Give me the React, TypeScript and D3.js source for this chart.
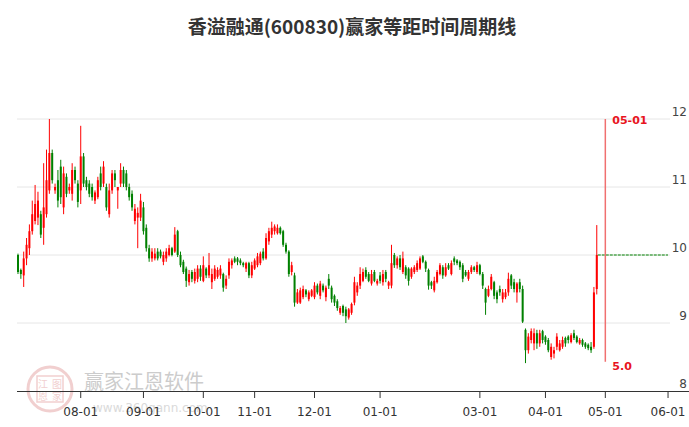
import React from "react";
import * as d3 from "d3";

// [open, high, low, close] per trading day, by month
const jul = [
  [10.0, 10.02, 9.72, 9.75], [9.78, 9.8, 9.65, 9.72], [9.7, 10.05, 9.53, 9.95], [9.95, 10.25, 9.85, 10.15],
  [10.1, 10.45, 10.0, 10.35], [10.35, 10.8, 10.3, 10.6], [10.5, 11.03, 10.45, 10.75], [10.55, 10.93, 10.44, 10.8],
  [10.6, 10.65, 10.25, 10.3], [10.4, 11.35, 10.15, 10.7], [10.6, 11.55, 10.55, 11.1], [10.95, 12.0, 10.9, 11.5],
  [11.5, 11.55, 11.05, 11.1], [10.95, 11.05, 10.9, 11.0], [11.1, 11.25, 10.7, 10.8], [11.3, 11.4, 10.75, 10.85],
  [10.7, 11.3, 10.6, 11.2], [11.15, 11.2, 10.85, 10.9], [10.95, 11.05, 10.9, 11.0], [10.9, 11.35, 10.8, 11.25],
  [11.25, 11.3, 11.05, 11.1], [11.05, 11.1, 10.7, 10.78],
];
const aug = [
  [10.95, 11.9, 10.75, 11.45], [11.45, 11.5, 11.0, 11.05], [11.1, 11.15, 10.95, 11.0], [11.05, 11.1, 10.85, 10.9],
  [11.0, 11.05, 10.8, 10.85], [10.8, 10.95, 10.75, 10.92], [10.85, 11.15, 10.82, 11.1], [11.2, 11.3, 10.95, 11.0],
  [11.05, 11.38, 11.0, 11.3], [11.0, 11.05, 10.65, 10.7], [10.6, 11.05, 10.55, 10.95], [10.95, 11.25, 10.9, 11.2],
  [11.2, 11.25, 11.0, 11.1], [10.95, 11.0, 10.68, 11.0], [11.05, 11.35, 11.0, 11.25], [11.25, 11.3, 11.0, 11.05],
  [11.2, 11.25, 10.95, 11.0], [11.0, 11.05, 10.8, 10.85], [10.9, 10.95, 10.65, 10.7], [10.5, 10.75, 10.45, 10.68],
  [10.55, 10.7, 10.1, 10.62], [10.55, 10.9, 10.5, 10.8],
];
const sep = [
  [10.7, 10.78, 10.3, 10.35], [10.4, 10.45, 10.05, 10.1], [10.1, 10.15, 9.9, 9.95], [9.95, 10.1, 9.9, 10.05],
  [9.95, 10.1, 9.92, 10.02], [10.05, 10.1, 9.92, 9.95], [10.05, 10.08, 9.95, 9.98], [9.9, 10.05, 9.85, 10.0],
  [9.95, 10.1, 9.9, 10.05], [10.0, 10.15, 9.98, 10.1], [10.1, 10.12, 9.98, 10.0], [10.05, 10.41, 10.03, 10.3],
  [10.35, 10.37, 9.97, 10.0], [10.0, 10.05, 9.82, 9.85], [9.9, 9.93, 9.72, 9.75], [9.8, 9.83, 9.53, 9.62],
  [9.6, 9.78, 9.55, 9.72], [9.75, 9.78, 9.6, 9.65], [9.62, 9.8, 9.58, 9.75], [9.65, 9.85, 9.6, 9.8],
  [9.8, 9.85, 9.62, 9.68],
];
const oct = [
  [9.62, 9.98, 9.6, 9.85], [9.8, 9.82, 9.66, 9.7], [9.7, 10.03, 9.66, 9.85], [9.6, 9.8, 9.5, 9.72],
  [9.65, 9.85, 9.62, 9.8], [9.68, 9.82, 9.65, 9.78], [9.7, 9.85, 9.65, 9.8], [9.72, 9.74, 9.46, 9.52],
  [9.55, 9.7, 9.5, 9.65], [9.7, 9.95, 9.65, 9.9], [9.85, 9.95, 9.8, 9.92], [9.95, 9.98, 9.88, 9.9],
  [9.95, 9.97, 9.85, 9.9], [9.92, 9.95, 9.85, 9.88], [9.88, 9.9, 9.82, 9.85], [9.8, 9.9, 9.75, 9.88],
  [9.88, 9.9, 9.66, 9.7], [9.7, 9.9, 9.66, 9.85],
];
const nov = [
  [9.8, 9.95, 9.78, 9.92], [9.85, 10.03, 9.82, 9.98], [9.88, 10.05, 9.85, 10.02], [10.05, 10.1, 9.92, 9.95],
  [9.95, 10.32, 9.93, 10.25], [10.2, 10.4, 10.15, 10.35], [10.3, 10.49, 10.25, 10.4], [10.35, 10.45, 10.3, 10.42],
  [10.32, 10.45, 10.3, 10.4], [10.4, 10.42, 10.3, 10.32], [10.35, 10.37, 10.12, 10.15], [10.15, 10.18, 10.02, 10.05],
  [10.05, 10.07, 9.68, 9.72], [9.75, 9.9, 9.7, 9.85], [9.7, 9.74, 9.24, 9.3], [9.3, 9.5, 9.28, 9.45],
  [9.3, 9.52, 9.28, 9.48], [9.38, 9.55, 9.35, 9.5], [9.48, 9.5, 9.38, 9.42], [9.35, 9.48, 9.32, 9.45],
  [9.4, 9.5, 9.38, 9.48], [9.38, 9.6, 9.35, 9.55],
];
const dec = [
  [9.55, 9.58, 9.42, 9.45], [9.4, 9.62, 9.35, 9.58], [9.55, 9.58, 9.45, 9.48], [9.38, 9.55, 9.32, 9.52],
  [9.65, 9.72, 9.5, 9.55], [9.52, 9.55, 9.3, 9.35], [9.4, 9.42, 9.25, 9.3], [9.32, 9.35, 9.18, 9.22],
  [9.15, 9.25, 9.12, 9.22], [9.25, 9.27, 9.1, 9.15], [9.2, 9.24, 9.0, 9.1], [9.08, 9.22, 9.05, 9.2],
  [9.15, 9.3, 9.12, 9.28], [9.3, 9.68, 9.26, 9.6], [9.45, 9.6, 9.4, 9.55], [9.55, 9.82, 9.5, 9.72],
  [9.62, 9.8, 9.6, 9.75], [9.78, 9.82, 9.65, 9.68], [9.72, 9.75, 9.6, 9.62], [9.58, 9.78, 9.55, 9.72],
  [9.75, 9.78, 9.6, 9.62], [9.58, 9.65, 9.55, 9.62],
];
const janFeb = [
  [9.7, 9.75, 9.58, 9.62], [9.6, 9.78, 9.55, 9.72], [9.75, 9.78, 9.6, 9.65], [9.55, 9.62, 9.5, 9.6],
  [9.55, 10.15, 9.51, 9.88], [10.0, 10.03, 9.81, 9.85], [9.85, 9.98, 9.8, 9.95], [9.95, 10.0, 9.78, 9.82],
  [9.75, 10.05, 9.72, 9.95], [9.82, 9.85, 9.65, 9.7], [9.8, 9.82, 9.55, 9.62], [9.68, 9.82, 9.65, 9.8],
  [9.75, 9.85, 9.72, 9.82], [9.78, 9.92, 9.75, 9.88], [9.8, 9.98, 9.78, 9.95], [9.98, 10.0, 9.88, 9.9],
  [9.9, 9.92, 9.75, 9.8], [9.78, 9.8, 9.49, 9.55], [9.6, 9.62, 9.5, 9.55], [9.48, 9.68, 9.45, 9.62],
  [9.6, 9.78, 9.58, 9.75], [9.72, 9.88, 9.7, 9.85], [9.82, 9.85, 9.65, 9.7], [9.7, 9.88, 9.68, 9.82],
  [9.85, 9.88, 9.78, 9.8], [9.72, 9.92, 9.7, 9.88], [9.95, 9.98, 9.85, 9.9], [9.92, 9.94, 9.85, 9.88],
  [9.9, 9.92, 9.78, 9.82], [9.85, 9.88, 9.6, 9.65], [9.75, 9.78, 9.68, 9.7], [9.65, 9.78, 9.62, 9.75],
  [9.75, 9.85, 9.72, 9.82], [9.82, 9.84, 9.75, 9.78], [9.75, 9.9, 9.72, 9.85],
];
const mar = [
  [9.85, 9.87, 9.7, 9.72], [9.72, 9.75, 9.5, 9.55], [9.5, 9.52, 9.12, 9.3], [9.4, 9.55, 9.38, 9.5],
  [9.5, 9.72, 9.48, 9.68], [9.6, 9.62, 9.35, 9.4], [9.45, 9.48, 9.29, 9.35], [9.5, 9.55, 9.4, 9.45],
  [9.35, 9.5, 9.3, 9.45], [9.38, 9.5, 9.35, 9.45], [9.45, 9.74, 9.4, 9.65], [9.7, 9.72, 9.5, 9.55],
  [9.6, 9.65, 9.45, 9.5], [9.45, 9.6, 9.3, 9.58], [9.6, 9.65, 9.45, 9.5], [9.5, 9.55, 9.0, 9.02],
  [8.9, 8.92, 8.41, 8.6], [8.6, 8.85, 8.55, 8.8], [8.75, 8.92, 8.7, 8.88], [8.7, 8.92, 8.6, 8.85],
  [8.85, 8.9, 8.62, 8.7], [8.7, 8.9, 8.65, 8.85], [8.88, 8.9, 8.7, 8.75],
];
const apr = [
  [8.8, 8.82, 8.68, 8.72], [8.75, 8.78, 8.57, 8.6], [8.5, 8.7, 8.46, 8.65], [8.55, 8.65, 8.48, 8.6],
  [8.65, 8.85, 8.6, 8.8], [8.6, 8.75, 8.58, 8.7], [8.65, 8.8, 8.62, 8.75], [8.78, 8.8, 8.65, 8.7],
  [8.8, 8.82, 8.7, 8.75], [8.72, 8.85, 8.7, 8.82], [8.85, 8.9, 8.75, 8.78], [8.8, 8.82, 8.7, 8.72],
  [8.7, 8.78, 8.68, 8.75], [8.75, 8.77, 8.65, 8.68], [8.7, 8.72, 8.62, 8.65], [8.68, 8.7, 8.6, 8.63],
  [8.65, 8.72, 8.56, 8.6], [8.65, 9.53, 8.62, 9.45], [9.5, 10.44, 9.42, 10.0],
];

const tickLabels = ["08-01", "09-01", "10-01", "11-01", "12-01", "01-01", "03-01", "04-01", "05-01", "06-01"];
const tickIdx = [22, 44, 65, 83, 104, 127, 162, 185, 206, 228];
const yTicks = [8, 9, 10, 11, 12];

const cycleIdx = 206;
const cycleLabel = "05-01";
const cycleBottomLabel = "5.0";
const cycleBottom = 8.43;
const lastClose = 10.0;

const candles = [...jul, ...aug, ...sep, ...oct, ...nov, ...dec, ...janFeb, ...mar, ...apr];

const W = 689;
const H = 427;
const RED = "#ff0000";
const GREEN = "#008000";

export default function App() {
  const slots = d3.range(236);
  const x = d3.scaleBand<number>().domain(slots).range([17, 689]).paddingInner(0.3);
  const cx = (i: number) => (x(i) ?? 0) + x.bandwidth() / 2;
  const y = d3.scaleLinear().domain([8, 12]).range([391, 119]);
  const font = "'Noto Sans CJK SC', 'Noto Sans', sans-serif";

  return (
    <div style={{ position: "fixed", left: 0, top: 0 }}>
      <svg width={W} height={H} style={{ display: "block", background: "#fff" }}>
        <text x={352} y={34} textAnchor="middle" fontFamily={font} fontSize={19} fontWeight="bold" fill="#333">
          香溢融通(600830)赢家等距时间周期线
        </text>

        {/* grid */}
        {yTicks.slice(1).map((t) => (
          <line key={t} x1={17} x2={670} y1={y(t)} y2={y(t)} stroke="#e6e6e6" strokeWidth={1} />
        ))}
        {yTicks.map((t) => (
          <text key={"yl" + t} x={687} y={y(t) - 3} textAnchor="end" fontFamily="'DejaVu Sans', sans-serif" fontSize={12} fill="#444">
            {t}
          </text>
        ))}

        {/* watermark */}
        <g opacity={0.55}>
          <circle cx={50} cy={389} r={22} fill="none" stroke="#e7a9a9" strokeWidth={3} />
          <rect x={37} y={376} width={26} height={26} fill="none" stroke="#e7a9a9" strokeWidth={1.5} />
          <text x={43} y={388} textAnchor="middle" fontFamily={font} fontSize={10} fill="#e7a9a9">江</text>
          <text x={57} y={388} textAnchor="middle" fontFamily={font} fontSize={10} fill="#e7a9a9">图</text>
          <text x={43} y={400} textAnchor="middle" fontFamily={font} fontSize={10} fill="#e7a9a9">恩</text>
          <text x={57} y={400} textAnchor="middle" fontFamily={font} fontSize={10} fill="#e7a9a9">家</text>
        </g>
        <text x={84} y={389} fontFamily={font} fontSize={20} fill="#cccccc">赢家江恩软件</text>
        <text x={93} y={412} fontFamily="'DejaVu Sans', sans-serif" fontSize={12} fill="#dadada">www.360gann.com</text>

        {/* candles */}
        {candles.map(([o, h, l, c], i) => {
          const col = c >= o ? RED : GREEN;
          const top = y(Math.max(o, c));
          const bh = Math.max(1, Math.abs(y(o) - y(c)));
          return (
            <g key={i}>
              <line x1={cx(i)} x2={cx(i)} y1={y(h)} y2={y(l)} stroke={col} strokeWidth={1} />
              <rect x={x(i)} y={top} width={x.bandwidth()} height={bh} fill={col} />
            </g>
          );
        })}

        {/* last close reference */}
        <line x1={cx(candles.length - 1) + 1} x2={668} y1={y(lastClose)} y2={y(lastClose)} stroke={GREEN} strokeWidth={1} strokeDasharray="3,1" />

        {/* cycle line */}
        <line x1={cx(cycleIdx)} x2={cx(cycleIdx)} y1={y(12)} y2={y(cycleBottom)} stroke="#f07070" strokeWidth={1.5} />
        <text x={cx(cycleIdx) + 7} y={y(12) + 5} fontFamily="'DejaVu Sans', sans-serif" fontSize={11} fontWeight="bold" fill="#e8141e">
          {cycleLabel}
        </text>
        <text x={cx(cycleIdx) + 7} y={y(cycleBottom) + 8} fontFamily="'DejaVu Sans', sans-serif" fontSize={11} fontWeight="bold" fill="#e8141e">
          {cycleBottomLabel}
        </text>

        {/* x axis */}
        <line x1={17} x2={689} y1={391.5} y2={391.5} stroke="#333" strokeWidth={1} />
        {tickIdx.map((t, k) => (
          <g key={t}>
            <line x1={cx(t)} x2={cx(t)} y1={391} y2={398} stroke="#333" strokeWidth={1} />
            <text x={cx(t)} y={416} textAnchor="middle" fontFamily="'DejaVu Sans', sans-serif" fontSize={12} fill="#333">
              {tickLabels[k]}
            </text>
          </g>
        ))}
      </svg>
    </div>
  );
}
